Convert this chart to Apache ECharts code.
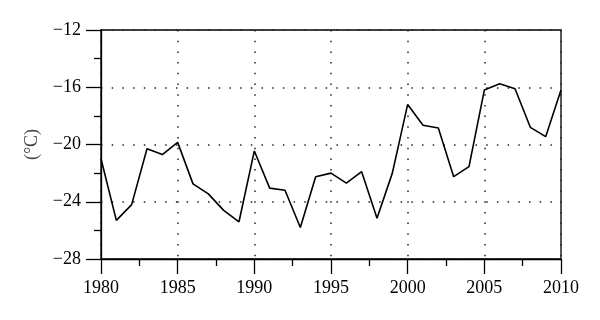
<!DOCTYPE html>
<html>
<head>
<meta charset="utf-8">
<script src="https://cdn.jsdelivr.net/npm/echarts@6/dist/echarts.min.js"></script>
<style>
  html, body { margin: 0; padding: 0; background: #fff; }
  #chart { width: 600px; height: 320px; }
</style>
</head>
<body>
<div id="chart"></div>
<script>
// years and temperatures
var years = [1980, 1981, 1982, 1983, 1984, 1985, 1986, 1987, 1988, 1989, 1990,
  1991, 1992, 1993, 1994, 1995, 1996, 1997, 1998, 1999, 2000,
  2001, 2002, 2003, 2004, 2005, 2006, 2007, 2008, 2009, 2010]
var temps = [-21.0, -25.3, -24.2, -20.3, -20.7, -19.85, -22.75, -23.45, -24.6, -25.4, -20.45,
  -23.05, -23.2, -25.8, -22.25, -22.0, -22.7, -21.9, -25.15, -22.0, -17.2,
  -18.65, -18.85, -22.25, -21.55, -16.2, -15.75, -16.1, -18.8, -19.45, -16.2]
var yTicks = [-28, -24, -20, -16, -12]
var yName = '(°C)'

var chart = echarts.init(document.getElementById('chart'))
var font = '"Liberation Serif", "DejaVu Serif", serif'

chart.setOption({
  animation: false,
  grid: {
    left: 101,
    right: 39,
    top: 30,
    bottom: 61,
    show: true,
    borderColor: '#000',
    borderWidth: 1.3
  },
  xAxis: {
    type: 'value',
    min: years[0],
    max: years[years.length - 1],
    interval: 5,
    axisLine: { lineStyle: { color: '#000', width: 1.3 } },
    axisTick: { length: 15, lineStyle: { color: '#000', width: 1.3 } },
    minorTick: { show: true, splitNumber: 2, length: 7, lineStyle: { color: '#000', width: 1.3 } },
    axisLabel: { color: '#000', fontFamily: font, fontSize: 18, margin: 20, formatter: function (v) { return String(v) } },
    splitLine: { show: true, lineStyle: { color: '#222', width: 1.5, type: [1.5, 9.2] } }
  },
  yAxis: {
    type: 'value',
    min: yTicks[0],
    max: yTicks[yTicks.length - 1],
    interval: 4,
    name: yName,
    nameLocation: 'middle',
    nameRotate: 90,
    nameGap: 60,
    nameTextStyle: { color: '#444', fontFamily: font, fontSize: 18 },
    axisLine: { show: true, lineStyle: { color: '#000', width: 1.3 } },
    axisTick: { show: true, length: 15, lineStyle: { color: '#000', width: 1.3 } },
    minorTick: { show: true, splitNumber: 2, length: 7, lineStyle: { color: '#000', width: 1.3 } },
    axisLabel: { color: '#000', fontFamily: font, fontSize: 18, margin: 20, formatter: function (v) { return String(v).replace('-', '\u2212') } },
    splitLine: { show: true, lineStyle: { color: '#222', width: 1.5, type: [1.5, 9.2] } }
  },
  series: [
    {
      type: 'line',
      data: years.map(function (y, i) { return [y, temps[i]] }),
      showSymbol: false,
      lineStyle: { color: '#000', width: 1.6 }
    }
  ]
})
</script>
</body>
</html>
